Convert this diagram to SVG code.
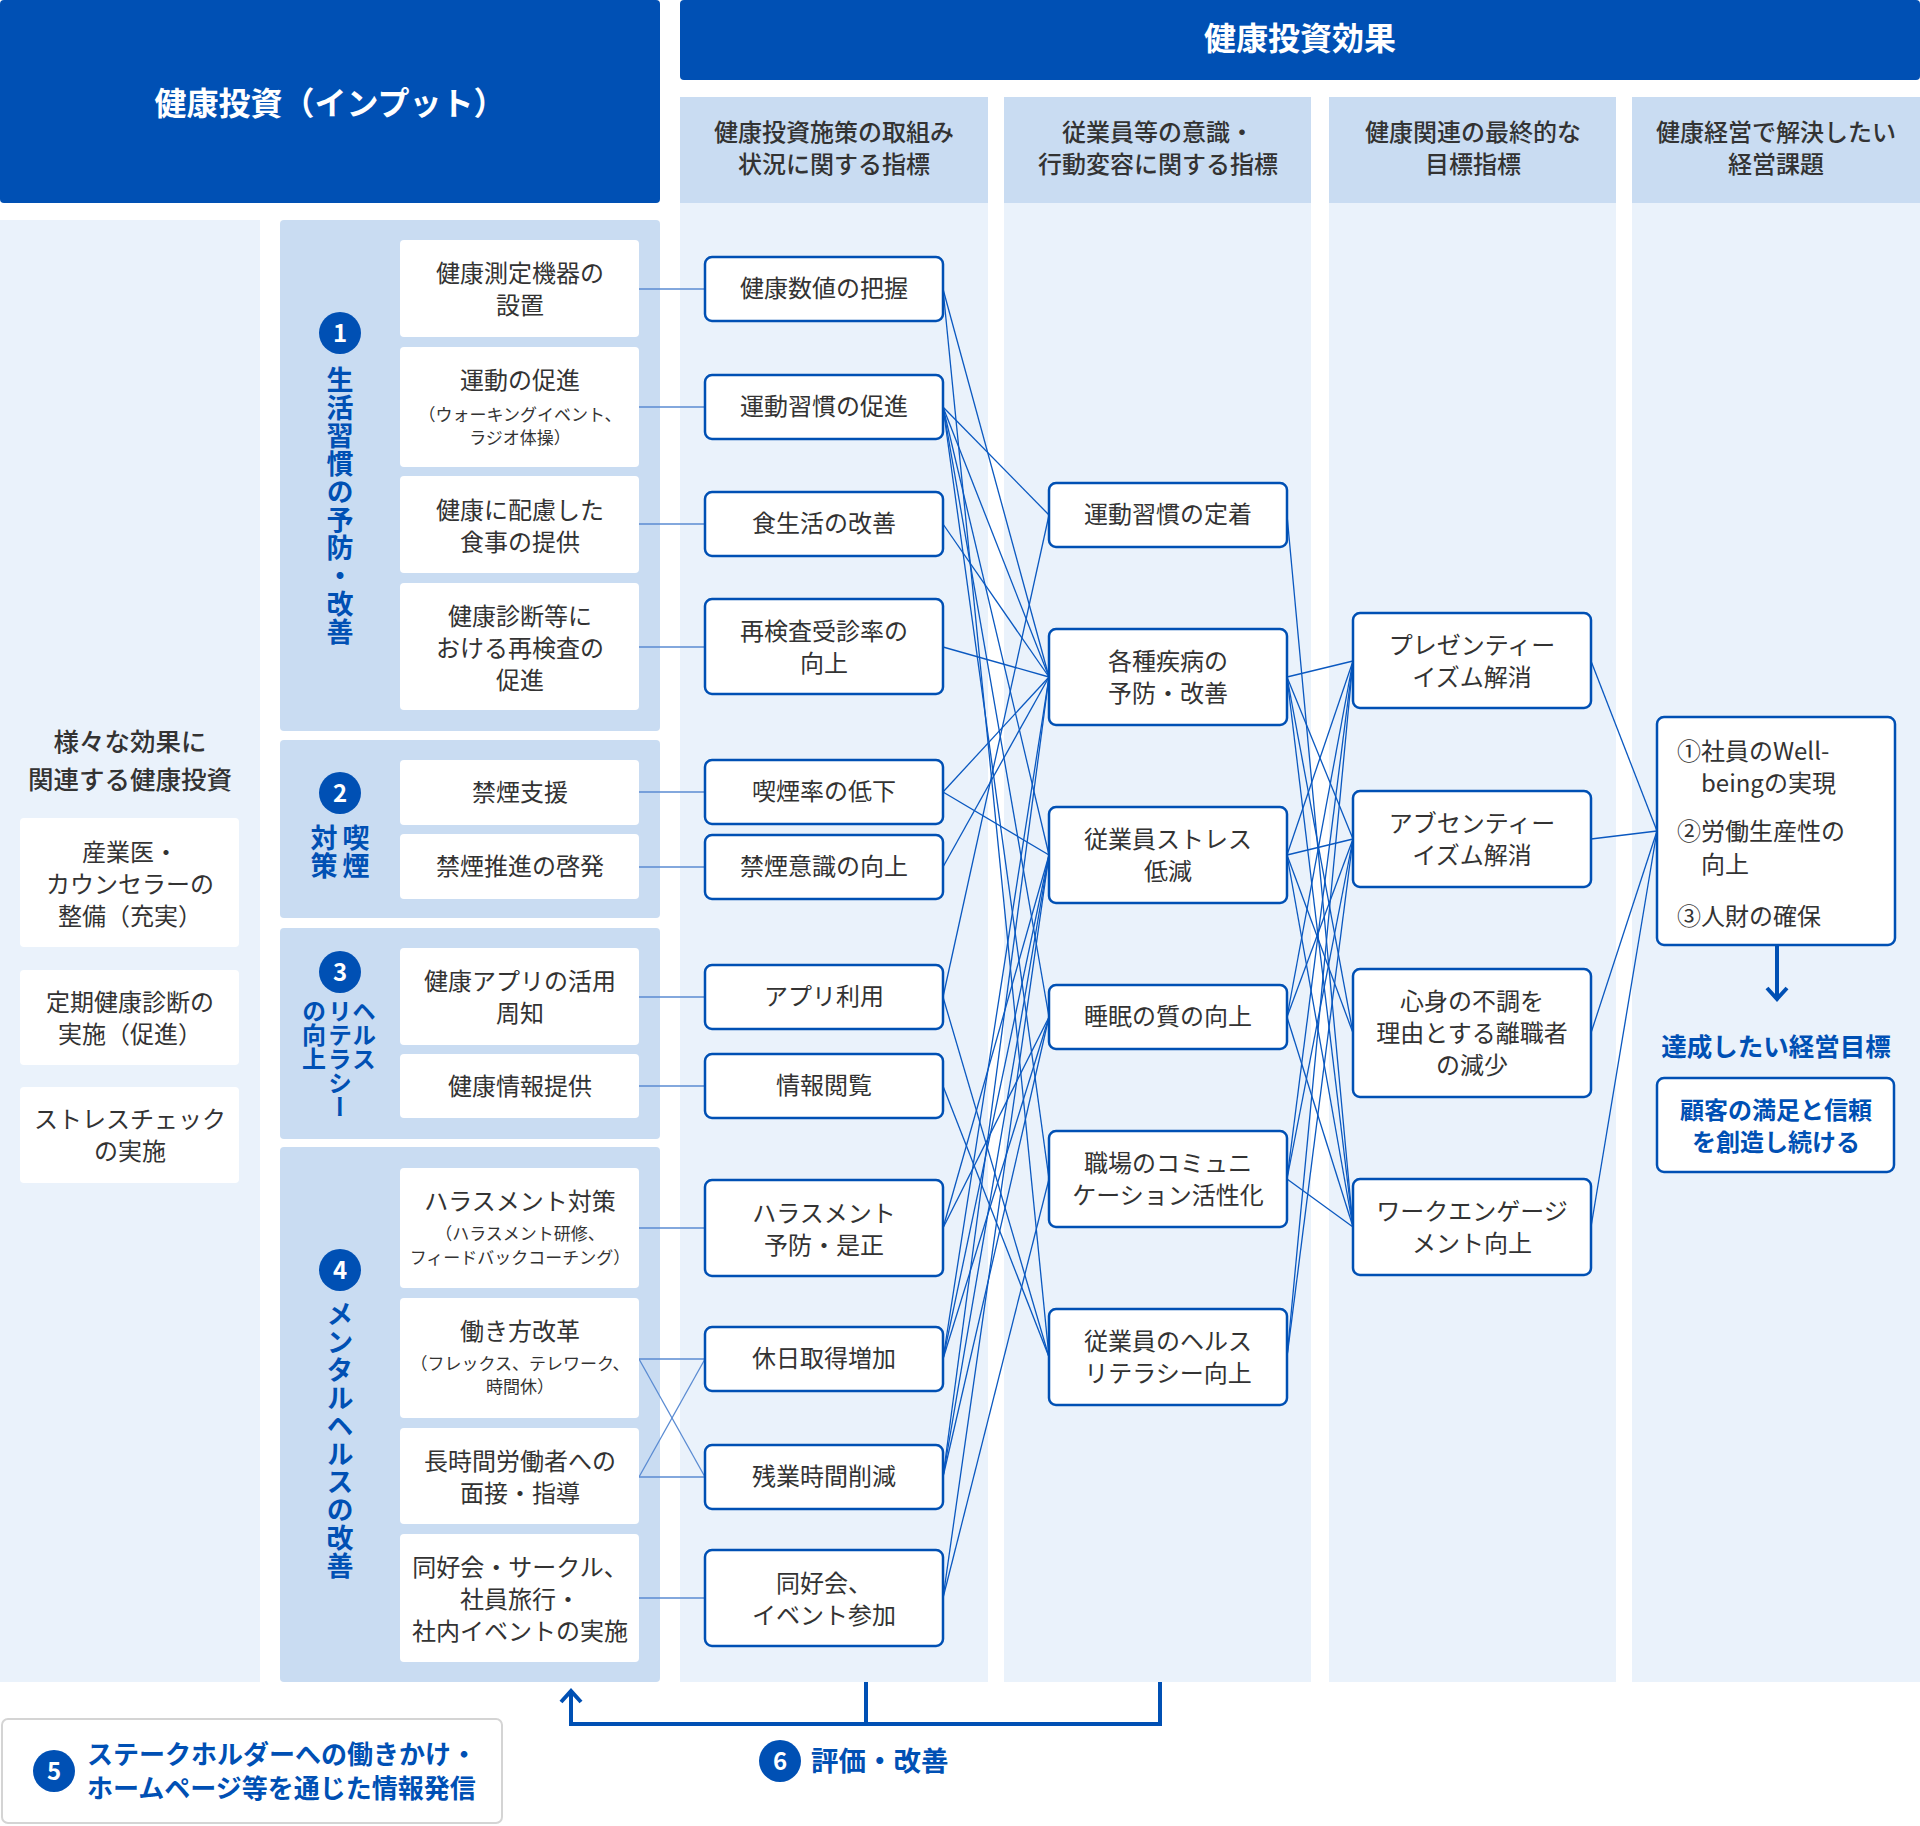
<svg xmlns="http://www.w3.org/2000/svg" width="1920" height="1826" viewBox="0 0 1920 1826">
<defs>
<style>
text{font-family:"Noto Sans CJK JP","Noto Sans",sans-serif;}
.hd{fill:#fff;font-weight:700;font-size:32px;text-anchor:middle;}
.sh{fill:#333;font-size:24px;font-weight:500;text-anchor:middle;}
.t{fill:#333;font-size:24px;text-anchor:middle;}
.ts{fill:#333;font-size:17px;text-anchor:middle;}
.bl{fill:#0050b4;font-weight:700;}
.num{fill:#fff;font-weight:700;font-size:24px;text-anchor:middle;}
.vt{fill:#0050b4;font-weight:700;font-size:27px;letter-spacing:1px;writing-mode:vertical-rl;}
.sub{fill:#c9dcf2;}
.body{fill:#eaf2fb;}
.grp{fill:#c9dcf2;}
.wb{fill:#fff;}
.nd{fill:#fff;stroke:#0050b4;stroke-width:2.5;}
.ln{stroke:#0a58c0;stroke-width:1.3;fill:none;}
.lnl{stroke:#5a8bd2;stroke-width:1.3;fill:none;}
.thick{stroke:#0050b4;stroke-width:4;fill:none;}
</style>
</defs>
<rect width="1920" height="1826" fill="#fff"/>

<g id="backgrounds">
<rect x="0" y="0" width="660" height="203" rx="4" fill="#0050b4"/>
<rect x="680" y="0" width="1240" height="80" rx="4" fill="#0050b4"/>
<rect class="sub" x="680" y="97" width="308" height="106"/>
<rect class="sub" x="1004" y="97" width="307" height="106"/>
<rect class="sub" x="1329" y="97" width="287" height="106"/>
<rect class="sub" x="1632" y="97" width="288" height="106"/>
<rect class="body" x="680" y="203" width="308" height="1479"/>
<rect class="body" x="1004" y="203" width="307" height="1479"/>
<rect class="body" x="1329" y="203" width="287" height="1479"/>
<rect class="body" x="1632" y="203" width="288" height="1479"/>
<rect class="body" x="0" y="220" width="260" height="1462"/>
<rect class="grp" x="280" y="220" width="380" height="511" rx="4"/>
<rect class="grp" x="280" y="740" width="380" height="178" rx="4"/>
<rect class="grp" x="280" y="928" width="380" height="211" rx="4"/>
<rect class="grp" x="280" y="1147" width="380" height="535" rx="4"/>
</g>

<g id="headers">
<text class="hd" x="330" y="115">健康投資（インプット）</text>
<text class="hd" x="1300" y="50">健康投資効果</text>
<text class="sh" x="834" y="141">健康投資施策の取組み</text>
<text class="sh" x="834" y="173">状況に関する指標</text>
<text class="sh" x="1158" y="141">従業員等の意識・</text>
<text class="sh" x="1158" y="173">行動変容に関する指標</text>
<text class="sh" x="1473" y="141">健康関連の最終的な</text>
<text class="sh" x="1473" y="173">目標指標</text>
<text class="sh" x="1776" y="141">健康経営で解決したい</text>
<text class="sh" x="1776" y="173">経営課題</text>
</g>

<g id="connectors">
<g class="lnl">
<line x1="639" y1="289" x2="705" y2="289"/>
<line x1="639" y1="407" x2="705" y2="407"/>
<line x1="639" y1="524" x2="705" y2="524"/>
<line x1="639" y1="647" x2="705" y2="647"/>
<line x1="639" y1="792" x2="705" y2="792"/>
<line x1="639" y1="867" x2="705" y2="867"/>
<line x1="639" y1="997" x2="705" y2="997"/>
<line x1="639" y1="1086" x2="705" y2="1086"/>
<line x1="639" y1="1228" x2="705" y2="1228"/>
<line x1="639" y1="1359" x2="705" y2="1359"/>
<line x1="639" y1="1359" x2="705" y2="1477"/>
<line x1="639" y1="1477" x2="705" y2="1477"/>
<line x1="639" y1="1477" x2="705" y2="1359"/>
<line x1="639" y1="1598" x2="705" y2="1598"/>
</g>
<g class="ln">
<line x1="943" y1="289" x2="1049" y2="677"/>
<line x1="943" y1="289" x2="1049" y2="1357"/>
<line x1="943" y1="407" x2="1049" y2="515"/>
<line x1="943" y1="407" x2="1049" y2="677"/>
<line x1="943" y1="407" x2="1049" y2="855"/>
<line x1="943" y1="407" x2="1049" y2="1017"/>
<line x1="943" y1="407" x2="1049" y2="1179"/>
<line x1="943" y1="524" x2="1049" y2="677"/>
<line x1="943" y1="647" x2="1049" y2="677"/>
<line x1="943" y1="792" x2="1049" y2="677"/>
<line x1="943" y1="792" x2="1049" y2="855"/>
<line x1="943" y1="867" x2="1049" y2="677"/>
<line x1="943" y1="997" x2="1049" y2="515"/>
<line x1="943" y1="997" x2="1049" y2="1357"/>
<line x1="943" y1="1086" x2="1049" y2="1357"/>
<line x1="943" y1="1228" x2="1049" y2="855"/>
<line x1="943" y1="1228" x2="1049" y2="1017"/>
<line x1="943" y1="1359" x2="1049" y2="677"/>
<line x1="943" y1="1359" x2="1049" y2="855"/>
<line x1="943" y1="1359" x2="1049" y2="1017"/>
<line x1="943" y1="1477" x2="1049" y2="677"/>
<line x1="943" y1="1477" x2="1049" y2="855"/>
<line x1="943" y1="1477" x2="1049" y2="1017"/>
<line x1="943" y1="1598" x2="1049" y2="855"/>
<line x1="943" y1="1598" x2="1049" y2="1179"/>

<line x1="1287" y1="515" x2="1353" y2="1227"/>
<line x1="1287" y1="677" x2="1353" y2="661"/>
<line x1="1287" y1="677" x2="1353" y2="839"/>
<line x1="1287" y1="677" x2="1353" y2="1033"/>
<line x1="1287" y1="677" x2="1353" y2="1227"/>
<line x1="1287" y1="855" x2="1353" y2="661"/>
<line x1="1287" y1="855" x2="1353" y2="839"/>
<line x1="1287" y1="855" x2="1353" y2="1033"/>
<line x1="1287" y1="855" x2="1353" y2="1227"/>
<line x1="1287" y1="1017" x2="1353" y2="661"/>
<line x1="1287" y1="1017" x2="1353" y2="839"/>
<line x1="1287" y1="1017" x2="1353" y2="1227"/>
<line x1="1287" y1="1179" x2="1353" y2="661"/>
<line x1="1287" y1="1179" x2="1353" y2="839"/>
<line x1="1287" y1="1179" x2="1353" y2="1227"/>
<line x1="1287" y1="1357" x2="1353" y2="661"/>
<line x1="1287" y1="1357" x2="1353" y2="839"/>

<line x1="1591" y1="661" x2="1657" y2="831"/>
<line x1="1591" y1="839" x2="1657" y2="831"/>
<line x1="1591" y1="1033" x2="1657" y2="831"/>
<line x1="1591" y1="1227" x2="1657" y2="831"/>
</g>
<line class="thick" x1="1777" y1="945" x2="1777" y2="998"/>
<polyline class="thick" points="1767,988 1777,999 1787,988"/>
<polyline class="thick" points="866,1682 866,1724"/>
<polyline class="thick" points="1160,1682 1160,1724 571,1724 571,1692"/>
<polyline class="thick" points="561,1702 571,1691 581,1702"/>
</g>

<g id="left-panel">
<text class="t" x="130" y="751" style="font-size:25.5px;font-weight:500">様々な効果に</text>
<text class="t" x="130" y="789" style="font-size:25.5px;font-weight:500">関連する健康投資</text>
<g id="l1"><rect class="wb" x="20" y="818" width="219" height="129" rx="4"/>
<text class="t" x="130" y="861">産業医・</text><text class="t" x="130" y="893">カウンセラーの</text><text class="t" x="130" y="925">整備（充実）</text></g>
<g id="l2"><rect class="wb" x="20" y="970" width="219" height="95" rx="4"/>
<text class="t" x="130" y="1011">定期健康診断の</text><text class="t" x="130" y="1043">実施（促進）</text></g>
<g id="l3"><rect class="wb" x="20" y="1087" width="219" height="96" rx="4"/>
<text class="t" x="130" y="1128">ストレスチェック</text><text class="t" x="130" y="1160">の実施</text></g>
</g>

<g id="group1">
<circle cx="340" cy="333" r="21" fill="#0050b4"/><text class="num" x="340" y="342">1</text>
<text class="vt" x="340" y="366">生活習慣の予防・改善</text>
</g>
<g id="group2">
<circle cx="340" cy="793" r="21" fill="#0050b4"/><text class="num" x="340" y="802">2</text>
<text class="vt" x="356" y="824">喫煙</text>
<text class="vt" x="324" y="824">対策</text>
</g>
<g id="group3">
<circle cx="340" cy="972" r="21" fill="#0050b4"/><text class="num" x="340" y="981">3</text>
<text class="vt" x="364" y="999" style="font-size:24px;letter-spacing:0">ヘルス</text>
<text class="vt" x="340" y="999" style="font-size:24px;letter-spacing:0">リテラシー</text>
<text class="vt" x="314" y="999" style="font-size:24px;letter-spacing:0">の向上</text>
</g>
<g id="group4">
<circle cx="340" cy="1270" r="21" fill="#0050b4"/><text class="num" x="340" y="1279">4</text>
<text class="vt" x="340" y="1300">メンタルヘルスの改善</text>
</g>

<g id="in1"><rect class="wb" x="400" y="240" width="239" height="97" rx="4"/><text class="t" x="520" y="282">健康測定機器の</text><text class="t" x="520" y="314">設置</text></g>
<g id="in2"><rect class="wb" x="400" y="347" width="239" height="120" rx="4"/><text class="t" x="520" y="389">運動の促進</text><text class="ts" x="520" y="421">（ウォーキングイベント、</text><text class="ts" x="520" y="444">ラジオ体操）</text></g>
<g id="in3"><rect class="wb" x="400" y="476" width="239" height="97" rx="4"/><text class="t" x="520" y="519">健康に配慮した</text><text class="t" x="520" y="551">食事の提供</text></g>
<g id="in4"><rect class="wb" x="400" y="583" width="239" height="127" rx="4"/><text class="t" x="520" y="625">健康診断等に</text><text class="t" x="520" y="657">おける再検査の</text><text class="t" x="520" y="689">促進</text></g>
<g id="in5"><rect class="wb" x="400" y="760" width="239" height="65" rx="4"/><text class="t" x="520" y="801">禁煙支援</text></g>
<g id="in6"><rect class="wb" x="400" y="834" width="239" height="65" rx="4"/><text class="t" x="520" y="875">禁煙推進の啓発</text></g>
<g id="in7"><rect class="wb" x="400" y="948" width="239" height="97" rx="4"/><text class="t" x="520" y="990">健康アプリの活用</text><text class="t" x="520" y="1022">周知</text></g>
<g id="in8"><rect class="wb" x="400" y="1054" width="239" height="64" rx="4"/><text class="t" x="520" y="1095">健康情報提供</text></g>
<g id="in9"><rect class="wb" x="400" y="1168" width="239" height="120" rx="4"/><text class="t" x="520" y="1210">ハラスメント対策</text><text class="ts" x="520" y="1240">（ハラスメント研修、</text><text class="ts" x="520" y="1264">フィードバックコーチング）</text></g>
<g id="in10"><rect class="wb" x="400" y="1298" width="239" height="120" rx="4"/><text class="t" x="520" y="1340">働き方改革</text><text class="ts" x="520" y="1370">（フレックス、テレワーク、</text><text class="ts" x="520" y="1393">時間休）</text></g>
<g id="in11"><rect class="wb" x="400" y="1428" width="239" height="96" rx="4"/><text class="t" x="520" y="1470">長時間労働者への</text><text class="t" x="520" y="1502">面接・指導</text></g>
<g id="in12"><rect class="wb" x="400" y="1534" width="239" height="128" rx="4"/><text class="t" x="520" y="1576">同好会・サークル、</text><text class="t" x="520" y="1608">社員旅行・</text><text class="t" x="520" y="1640">社内イベントの実施</text></g>

<g id="a1"><rect class="nd" x="705" y="257" width="238" height="64" rx="7"/><text class="t" x="824" y="297">健康数値の把握</text></g>
<g id="a2"><rect class="nd" x="705" y="375" width="238" height="64" rx="7"/><text class="t" x="824" y="415">運動習慣の促進</text></g>
<g id="a3"><rect class="nd" x="705" y="492" width="238" height="64" rx="7"/><text class="t" x="824" y="532">食生活の改善</text></g>
<g id="a4"><rect class="nd" x="705" y="599" width="238" height="95" rx="7"/><text class="t" x="824" y="640">再検査受診率の</text><text class="t" x="824" y="672">向上</text></g>
<g id="a5"><rect class="nd" x="705" y="760" width="238" height="64" rx="7"/><text class="t" x="824" y="800">喫煙率の低下</text></g>
<g id="a6"><rect class="nd" x="705" y="835" width="238" height="64" rx="7"/><text class="t" x="824" y="875">禁煙意識の向上</text></g>
<g id="a7"><rect class="nd" x="705" y="965" width="238" height="64" rx="7"/><text class="t" x="824" y="1005">アプリ利用</text></g>
<g id="a8"><rect class="nd" x="705" y="1054" width="238" height="64" rx="7"/><text class="t" x="824" y="1094">情報閲覧</text></g>
<g id="a9"><rect class="nd" x="705" y="1180" width="238" height="96" rx="7"/><text class="t" x="824" y="1222">ハラスメント</text><text class="t" x="824" y="1254">予防・是正</text></g>
<g id="a10"><rect class="nd" x="705" y="1327" width="238" height="64" rx="7"/><text class="t" x="824" y="1367">休日取得増加</text></g>
<g id="a11"><rect class="nd" x="705" y="1445" width="238" height="64" rx="7"/><text class="t" x="824" y="1485">残業時間削減</text></g>
<g id="a12"><rect class="nd" x="705" y="1550" width="238" height="96" rx="7"/><text class="t" x="824" y="1592">同好会、</text><text class="t" x="824" y="1624">イベント参加</text></g>

<g id="b1"><rect class="nd" x="1049" y="483" width="238" height="64" rx="7"/><text class="t" x="1168" y="523">運動習慣の定着</text></g>
<g id="b2"><rect class="nd" x="1049" y="629" width="238" height="96" rx="7"/><text class="t" x="1168" y="670">各種疾病の</text><text class="t" x="1168" y="702">予防・改善</text></g>
<g id="b3"><rect class="nd" x="1049" y="807" width="238" height="96" rx="7"/><text class="t" x="1168" y="848">従業員ストレス</text><text class="t" x="1168" y="880">低減</text></g>
<g id="b4"><rect class="nd" x="1049" y="985" width="238" height="64" rx="7"/><text class="t" x="1168" y="1025">睡眠の質の向上</text></g>
<g id="b5"><rect class="nd" x="1049" y="1131" width="238" height="96" rx="7"/><text class="t" x="1168" y="1172">職場のコミュニ</text><text class="t" x="1168" y="1204">ケーション活性化</text></g>
<g id="b6"><rect class="nd" x="1049" y="1309" width="238" height="96" rx="7"/><text class="t" x="1168" y="1350">従業員のヘルス</text><text class="t" x="1168" y="1382">リテラシー向上</text></g>

<g id="c1"><rect class="nd" x="1353" y="613" width="238" height="95" rx="7"/><text class="t" x="1472" y="654">プレゼンティー</text><text class="t" x="1472" y="686">イズム解消</text></g>
<g id="c2"><rect class="nd" x="1353" y="791" width="238" height="96" rx="7"/><text class="t" x="1472" y="832">アブセンティー</text><text class="t" x="1472" y="864">イズム解消</text></g>
<g id="c3"><rect class="nd" x="1353" y="969" width="238" height="128" rx="7"/><text class="t" x="1472" y="1010">心身の不調を</text><text class="t" x="1472" y="1042">理由とする離職者</text><text class="t" x="1472" y="1074">の減少</text></g>
<g id="c4"><rect class="nd" x="1353" y="1179" width="238" height="96" rx="7"/><text class="t" x="1472" y="1220">ワークエンゲージ</text><text class="t" x="1472" y="1252">メント向上</text></g>

<g id="d1"><rect class="nd" x="1657" y="717" width="238" height="228" rx="7"/>
<text class="t" x="1677" y="760" style="text-anchor:start">①社員のWell-</text>
<text class="t" x="1701" y="792" style="text-anchor:start">beingの実現</text>
<text class="t" x="1677" y="840" style="text-anchor:start">②労働生産性の</text>
<text class="t" x="1701" y="873" style="text-anchor:start">向上</text>
<text class="t" x="1677" y="925" style="text-anchor:start">③人財の確保</text>
</g>
<g id="goal">
<text class="bl" x="1776" y="1056" style="font-size:25.5px;text-anchor:middle">達成したい経営目標</text>
<rect class="nd" x="1657" y="1078" width="237" height="94" rx="7"/>
<text class="bl" x="1776" y="1119" style="font-size:24px;text-anchor:middle">顧客の満足と信頼</text>
<text class="bl" x="1776" y="1151" style="font-size:24px;text-anchor:middle">を創造し続ける</text>
</g>

<g id="stakeholder">
<rect x="2" y="1719" width="500" height="104" rx="6" fill="#fff" stroke="#d4d4d4" stroke-width="2"/>
<circle cx="54" cy="1771" r="21" fill="#0050b4"/><text class="num" x="54" y="1780">5</text>
<text class="bl" x="87" y="1764" style="font-size:26px">ステークホルダーへの働きかけ・</text>
<text class="bl" x="87" y="1798" style="font-size:26px">ホームページ等を通じた情報発信</text>
</g>
<g id="evaluation">
<circle cx="780" cy="1761" r="21" fill="#0050b4"/><text class="num" x="780" y="1770">6</text>
<text class="bl" x="811" y="1771" style="font-size:27.5px">評価・改善</text>
</g>
</svg>
